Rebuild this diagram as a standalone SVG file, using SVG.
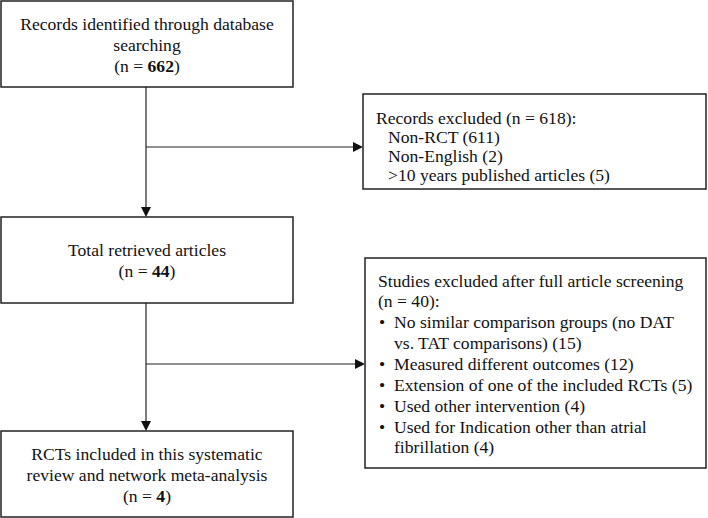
<svg xmlns="http://www.w3.org/2000/svg" width="708" height="518" viewBox="0 0 708 518">
<style>
rect.box{fill:#fff;stroke:#222;stroke-width:1.5}
text{font-family:"Liberation Serif","Times New Roman",serif;font-size:17.6px;fill:#111}
.c{text-anchor:middle}
.conn line{stroke:#222;stroke-width:1.2}
.conn polygon{fill:#111}
</style>
<rect width="708" height="518" fill="#fff"/>
<g class="conn" id="connectors">
<line x1="146" y1="87" x2="146" y2="208"/>
<polygon points="141,207 151,207 146,217"/>
<line x1="146" y1="147" x2="354" y2="147"/>
<polygon points="353,142 353,152 363,147"/>
<line x1="146" y1="303" x2="146" y2="422"/>
<polygon points="141,421 151,421 146,431"/>
<line x1="146" y1="364" x2="356" y2="364"/>
<polygon points="355,359 355,369 365,364"/>
</g>
<g id="n1">
<rect class="box" x="1" y="1" width="292" height="86"/>
<text class="c" x="147" y="30">Records identified through database</text>
<text class="c" x="147" y="51">searching</text>
<text class="c" x="147" y="72">(n = <tspan font-weight="bold">662</tspan>)</text>
</g>
<g id="n2">
<rect class="box" x="363" y="94" width="343" height="95"/>
<text x="376" y="124">Records excluded (n = 618):</text>
<text x="388" y="143">Non-RCT (611)</text>
<text x="388" y="162">Non-English (2)</text>
<text x="388" y="181">&gt;10 years published articles (5)</text>
</g>
<g id="n3">
<rect class="box" x="1" y="217" width="292" height="86"/>
<text class="c" x="147" y="256">Total retrieved articles</text>
<text class="c" x="147" y="277">(n = <tspan font-weight="bold">44</tspan>)</text>
</g>
<g id="n4">
<rect class="box" x="365" y="258" width="341" height="210"/>
<text x="378" y="287">Studies excluded after full article screening</text>
<text x="378" y="307">(n = 40):</text>
<text x="379" y="328">•</text><text x="394" y="328">No similar comparison groups (no DAT</text>
<text x="394" y="349">vs. TAT comparisons) (15)</text>
<text x="379" y="370">•</text><text x="394" y="370">Measured different outcomes (12)</text>
<text x="379" y="391">•</text><text x="394" y="391">Extension of one of the included RCTs (5)</text>
<text x="379" y="412">•</text><text x="394" y="412">Used other intervention (4)</text>
<text x="379" y="433">•</text><text x="394" y="433">Used for Indication other than atrial</text>
<text x="394" y="453">fibrillation (4)</text>
</g>
<g id="n5">
<rect class="box" x="1" y="431" width="292" height="86"/>
<text class="c" x="147" y="460">RCTs included in this systematic</text>
<text class="c" x="147" y="481">review and network meta-analysis</text>
<text class="c" x="147" y="502">(n = <tspan font-weight="bold">4</tspan>)</text>
</g>
</svg>
